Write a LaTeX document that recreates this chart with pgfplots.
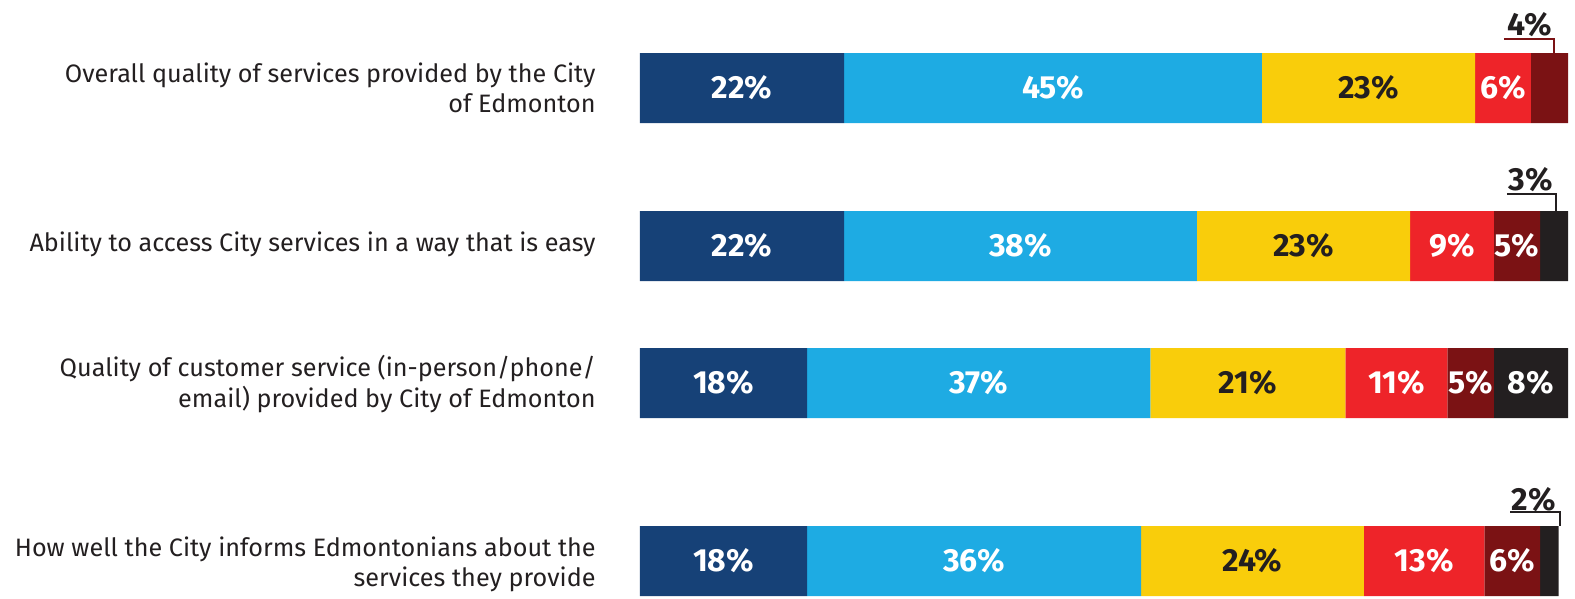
\documentclass[border=0pt]{standalone}
\usepackage{pgfplots}
\pgfplotsset{compat=1.18}
\usepackage{pgfplotstable}
\usepackage{fontspec}
\setmainfont{Fira Sans}
\definecolor{c1}{HTML}{164177}
\definecolor{c2}{HTML}{1EABE3}
\definecolor{c3}{HTML}{F9CD0B}
\definecolor{c4}{HTML}{EE2429}
\definecolor{c5}{HTML}{7B1214}
\definecolor{c6}{HTML}{231F20}
\definecolor{txt}{HTML}{231F20}
\newcommand\catfont{\fontsize{12.6}{15.3}\selectfont}
\newcommand\pctfont{\fontsize{16}{18}\selectfont\bfseries}
\pgfplotstableread{
y v1 v2 v3 v4 v5 v6
88 22 45 23 6 4 0
246 22 38 23 9 5 3
383 18 37 21 11 5 8
561 18 36 24 13 6 2
}\data
\pgfplotstableread{
x y p
11 88 22
44.5 88 45
93 88 6
11 246 22
41 246 38
87.5 246 9
94.5 246 5
9 383 18
36.5 383 37
81.5 383 11
89.5 383 5
96 383 8
9 561 18
36 561 36
84.5 561 13
94 561 6
}\whitelabels
\pgfplotstableread{
x y p
78.5 88 23
71.5 246 23
65.5 383 21
66 561 24
}\darklabels
\pgfplotsset{
  base/.style={at={(320pt,-299.5pt)}, anchor=south west, scale only axis,
    width=464pt, height=299.5pt, xmin=0, xmax=100, ymin=0, ymax=599,
    y dir=reverse, hide axis, clip=false},
  lbl/.style={only marks, mark=*, mark size=0pt, mark options={draw=none,fill=none},
    point meta=explicit, /pgf/number format/assume math mode=true,
    nodes near coords={\pgfmathprintnumber{\pgfplotspointmeta}\%},
    nodes near coords style={anchor=center, font=\pctfont}},
}
\tikzset{catlbl/.style={anchor=east, align=right, text=txt, inner sep=0pt, font=\catfont}}
\begin{document}
\begin{tikzpicture}
\useasboundingbox (0pt,0pt) rectangle (787.5pt,-299.5pt);
\begin{axis}[base, xbar stacked, bar width=70]
\addplot[fill=c1, draw=none] table[x=v1,y=y]{\data};
\addplot[fill=c2, draw=none] table[x=v2,y=y]{\data};
\addplot[fill=c3, draw=none] table[x=v3,y=y]{\data};
\addplot[fill=c4, draw=none] table[x=v4,y=y]{\data};
\addplot[fill=c5, draw=none] table[x=v5,y=y]{\data};
\addplot[fill=c6, draw=none] table[x=v6,y=y]{\data};
\node[catlbl] at (axis cs:-4.74,88) {Overall quality of services provided by the City\\of Edmonton};
\node[catlbl] at (axis cs:-4.74,244) {Ability to access City services in a way that is easy};
\node[catlbl] at (axis cs:-4.74,384) {Quality of customer service (in-person/phone/\\email) provided by City of Edmonton};
\node[catlbl] at (axis cs:-4.74,564.5) {How well the City informs Edmontonians about the\\services they provide};
\draw[c5, line width=1pt] (axis cs:93.1,39) -- (axis cs:98.5,39) -- (axis cs:98.5,53);
\draw[c6, line width=1pt] (axis cs:93.4,194) -- (axis cs:98.7,194) -- (axis cs:98.7,211);
\draw[c6, line width=1pt] (axis cs:93.75,512) -- (axis cs:99.1,512) -- (axis cs:99.1,526);
\end{axis}
\begin{axis}[base]
\addplot[lbl, nodes near coords style={text=white}] table[x=x,y=y,meta=p]{\whitelabels};
\addplot[lbl, nodes near coords style={text=txt}] table[x=x,y=y,meta=p]{\darklabels};
\addplot[lbl, nodes near coords style={text=txt}] coordinates {(95.9,25) [4] (96.0,180) [3] (96.3,500) [2]};
\end{axis}
\end{tikzpicture}
\end{document}
